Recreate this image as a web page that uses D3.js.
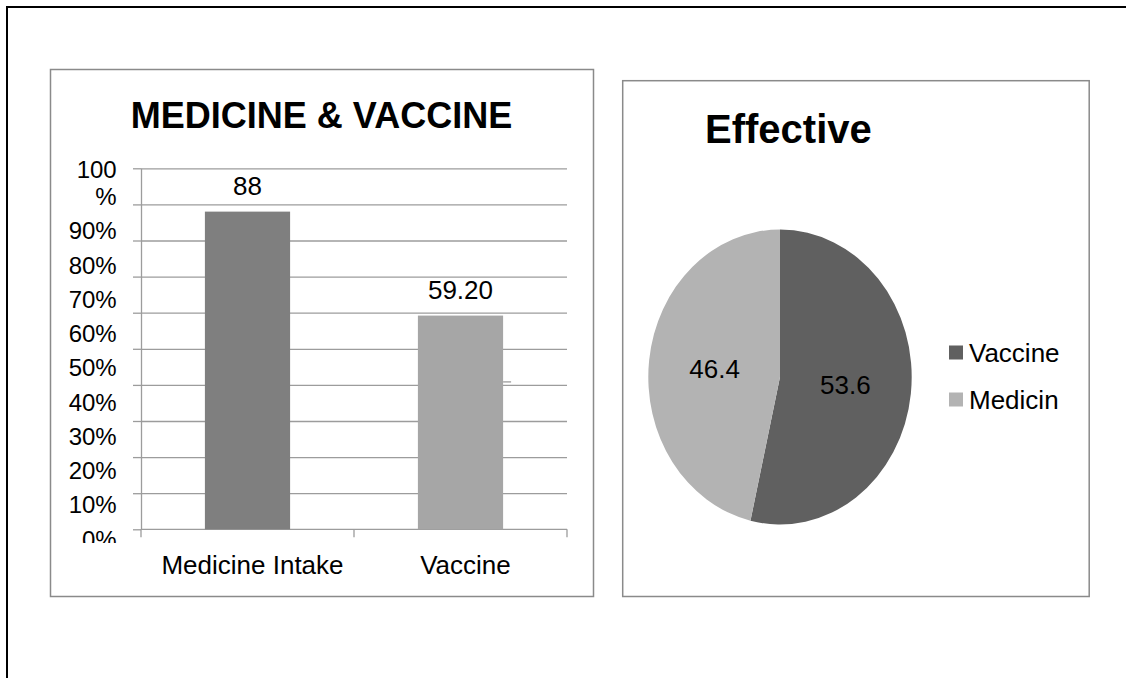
<!DOCTYPE html>
<html>
<head>
<meta charset="utf-8">
<script src="https://cdn.jsdelivr.net/npm/d3@7"></script>
<style>
  body { margin: 0; background: #fff; }
  text { font-family: "Liberation Sans", Arial, sans-serif; fill: #000; }
</style>
</head>
<body>
<svg id="chart" width="1126" height="678"></svg>
<script>
// Bar chart data
const barCategories = ["Medicine Intake", "Vaccine"];
const barValues = [88, 59.2];
const barValueLabels = ["88", "59.20"];
const barColors = ["#7f7f7f", "#a6a6a6"];
const yTicks = [0, 10, 20, 30, 40, 50, 60, 70, 80, 90, 100];
const yTickLabels = ["0%", "10%", "20%", "30%", "40%", "50%", "60%", "70%", "80%", "90%", "100%"];

// Pie chart data
const pieCategories = ["Vaccine", "Medicin"];
const pieValues = [53.6, 46.4];
const pieValueLabels = ["53.6", "46.4"];
const pieColors = ["#606060", "#b3b3b3"];

const svg = d3.select("#chart");
const frameColor = "#8a8a8a";
const gridColor = "#9c9c9c";

// Page border (top and left edges)
svg.append("path")
  .attr("d", "M7,678V7H1126")
  .attr("fill", "none")
  .attr("stroke", "#000")
  .attr("stroke-width", 2);

// ---------- Bar chart ----------
const bar = svg.append("g");
bar.append("rect")
  .attr("x", 50.5).attr("y", 69.5).attr("width", 543).attr("height", 527)
  .attr("fill", "#fff").attr("stroke", frameColor).attr("stroke-width", 1.5);

bar.append("text")
  .attr("x", 321.5).attr("y", 128.3)
  .attr("text-anchor", "middle")
  .attr("font-size", 36).attr("font-weight", "bold")
  .text("MEDICINE & VACCINE");

const plotLeft = 141, plotRight = 567;
const y = d3.scaleLinear().domain([0, 100]).range([529.3, 168.3]);
const x = d3.scaleBand().domain(barCategories).range([plotLeft, plotRight])
  .paddingInner(0.6).paddingOuter(0.3);

// Horizontal gridlines
bar.append("g")
  .attr("transform", `translate(${plotLeft},0)`)
  .call(d3.axisRight(y).tickValues(yTicks.filter(d => d > 0)).tickSize(plotRight - plotLeft).tickFormat(""))
  .call(g => g.select(".domain").remove())
  .call(g => g.selectAll("line").attr("stroke", gridColor).attr("stroke-width", 1.3));

// Value axis with outside tick marks
bar.append("g")
  .attr("transform", `translate(${plotLeft},0)`)
  .call(d3.axisLeft(y).tickValues(yTicks).tickSize(8).tickSizeOuter(0).tickFormat(""))
  .call(g => g.selectAll("line, path").attr("stroke", gridColor).attr("stroke-width", 1.3));

// Category axis: baseline plus tick marks between categories
const step = x.step();
const boundaries = d3.range(barCategories.length + 1)
  .map(i => x(barCategories[0]) + x.bandwidth() / 2 - step / 2 + i * step);
const catAxis = bar.append("g");
catAxis.append("line")
  .attr("x1", boundaries[0]).attr("x2", boundaries[boundaries.length - 1])
  .attr("y1", y(0)).attr("y2", y(0))
  .attr("stroke", gridColor).attr("stroke-width", 1.3);
catAxis.selectAll("line.tick").data(boundaries).join("line")
  .attr("class", "tick")
  .attr("x1", d => d).attr("x2", d => d)
  .attr("y1", y(0)).attr("y2", y(0) + 8)
  .attr("stroke", gridColor).attr("stroke-width", 1.3);

// Tick labels sit on their own evenly spaced column, clipped at the bottom
const yLabel = d3.scaleLinear().domain([0, 100]).range([547.7, 205]);
svg.append("clipPath").attr("id", "ylabclip")
  .append("rect").attr("x", 50).attr("y", 140).attr("width", 90).attr("height", 403);
const labels = bar.append("g").attr("clip-path", "url(#ylabclip)");
labels.selectAll("text").data(yTicks).join("text")
  .attr("x", 116.7)
  .attr("y", d => yLabel(d))
  .attr("text-anchor", "end")
  .attr("font-size", 24)
  .each(function (d, i) {
    const s = yTickLabels[i];
    const t = d3.select(this);
    if (s.length > 3) {
      t.append("tspan").attr("x", 116.7).attr("dy", -26.7).text(s.slice(0, -1));
      t.append("tspan").attr("x", 116.7).attr("dy", 26.7).text("%");
    } else {
      t.text(s);
    }
  });

// Bars
bar.selectAll("rect.bar").data(barCategories).join("rect")
  .attr("class", "bar")
  .attr("x", d => x(d))
  .attr("width", x.bandwidth())
  .attr("y", (d, i) => y(barValues[i]))
  .attr("height", (d, i) => y(0) - y(barValues[i]))
  .attr("fill", (d, i) => barColors[i]);

// Short gridline stub beside the vaccine bar
bar.append("line")
  .attr("x1", x("Vaccine") + x.bandwidth()).attr("x2", x("Vaccine") + x.bandwidth() + 8)
  .attr("y1", y(40) - 3).attr("y2", y(40) - 3)
  .attr("stroke", gridColor).attr("stroke-width", 1.3);

// Value labels
bar.selectAll("text.val").data(barCategories).join("text")
  .attr("class", "val")
  .attr("x", d => x(d) + x.bandwidth() / 2)
  .attr("y", (d, i) => y(barValues[i]) - 17)
  .attr("text-anchor", "middle")
  .attr("font-size", 26)
  .text((d, i) => barValueLabels[i]);

// Category labels
bar.selectAll("text.cat").data(barCategories).join("text")
  .attr("class", "cat")
  .attr("x", d => x(d) + x.bandwidth() / 2 + 5)
  .attr("y", 574)
  .attr("text-anchor", "middle")
  .attr("font-size", 26)
  .text(d => d);

// ---------- Pie chart ----------
const pieG = svg.append("g");
pieG.append("rect")
  .attr("x", 622.7).attr("y", 80.7).attr("width", 466.5).attr("height", 515.8)
  .attr("fill", "#fff").attr("stroke", frameColor).attr("stroke-width", 1.5);

pieG.append("text")
  .attr("x", 705).attr("y", 143.3)
  .attr("font-size", 40).attr("font-weight", "bold")
  .text("Effective");

const cx = 780, cy = 377, radius = 147.5, xSquash = 131.7 / 147.5;
const pie = d3.pie().sort(null).value(d => d)(pieValues);
const arc = d3.arc().innerRadius(0).outerRadius(radius);
const labelArc = d3.arc().innerRadius(radius * 0.5).outerRadius(radius * 0.5);

pieG.append("g")
  .attr("transform", `translate(${cx},${cy}) scale(${xSquash},1)`)
  .selectAll("path").data(pie).join("path")
  .attr("d", arc)
  .attr("fill", (d, i) => pieColors[i]);

pieG.selectAll("text.plab").data(pie).join("text")
  .attr("class", "plab")
  .attr("x", d => cx + labelArc.centroid(d)[0] * xSquash)
  .attr("y", d => cy + labelArc.centroid(d)[1])
  .attr("dy", "0.35em")
  .attr("text-anchor", "middle")
  .attr("font-size", 26)
  .text((d, i) => pieValueLabels[i]);

// Legend
const legend = pieG.selectAll("g.leg").data(pieCategories).join("g")
  .attr("class", "leg")
  .attr("transform", (d, i) => `translate(949,${345.5 + i * 47})`);
legend.append("rect")
  .attr("width", 14).attr("height", 14)
  .attr("fill", (d, i) => pieColors[i]);
legend.append("text")
  .attr("x", 20).attr("y", 16.3)
  .attr("font-size", 26)
  .text(d => d);
</script>
</body>
</html>
